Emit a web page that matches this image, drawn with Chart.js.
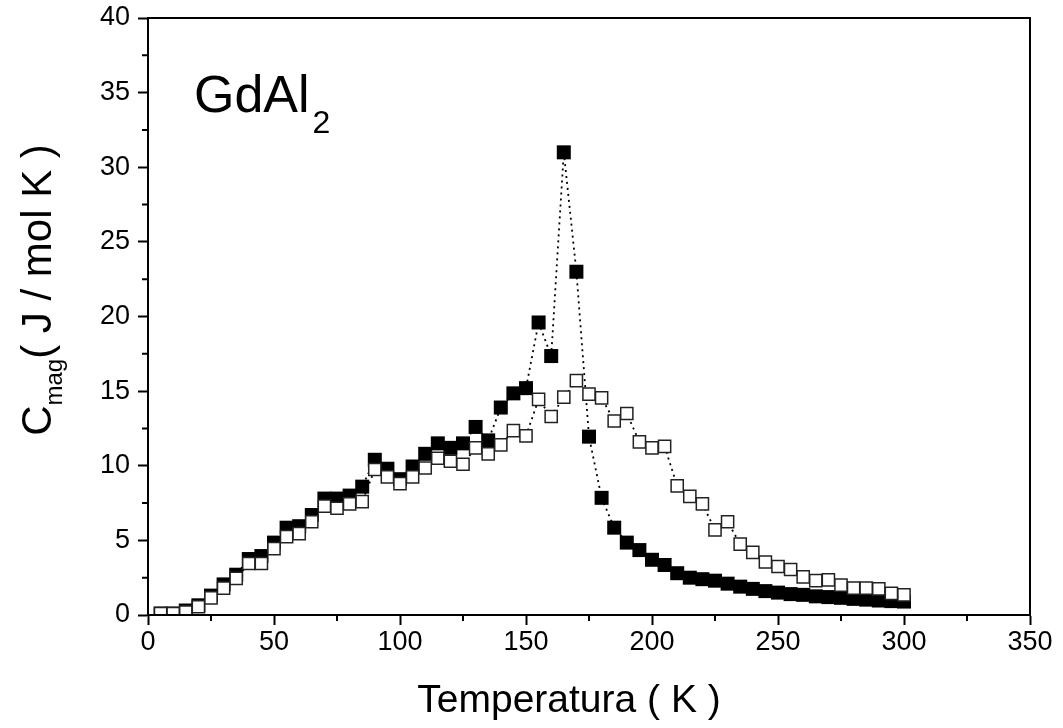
<!DOCTYPE html>
<html lang="es">
<head>
    <meta charset="UTF-8">
    <title>GdAl2 - Cmag vs Temperatura</title>
    <script src="https://cdn.jsdelivr.net/npm/chart.js"></script>
    <style>
        body { margin: 0; background: #fff; }
        .chart-box { width: 1063px; height: 728px; }
    </style>
</head>
<body>
    <div class="chart-box">
        <canvas id="cmagChart"></canvas>
    </div>

    <script>
        // Temperature grid (K)
        const temps = [
            5, 10, 15, 20, 25, 30, 35, 40, 45, 50,
            55, 60, 65, 70, 75, 80, 85, 90, 95, 100,
            105, 110, 115, 120, 125, 130, 135, 140, 145, 150,
            155, 160, 165, 170, 175, 180, 185, 190, 195, 200,
            205, 210, 215, 220, 225, 230, 235, 240, 245, 250,
            255, 260, 265, 270, 275, 280, 285, 290, 295, 300
        ];

        // Cmag (J / mol K), filled squares
        const cmagFilled = [
            0.1, 0.1, 0.3, 0.65, 1.3, 2.05, 2.7, 3.75, 3.95, 4.85,
            5.85, 5.95, 6.7, 7.8, 7.8, 8.0, 8.6, 10.4, 9.8, 9.1,
            9.95, 10.8, 11.5, 11.2, 11.5, 12.6, 11.7, 13.9, 14.85, 15.2,
            19.6, 17.35, 31.0, 23.0, 11.95, 7.85, 5.85, 4.85, 4.35, 3.7,
            3.35, 2.8, 2.5, 2.4, 2.3, 2.1, 1.9, 1.75, 1.6, 1.5,
            1.4, 1.35, 1.25, 1.2, 1.15, 1.08, 1.03, 0.97, 0.93, 0.9
        ];

        // Cmag (J / mol K), open squares
        const cmagOpen = [
            0.1, 0.1, 0.2, 0.55, 1.15, 1.8, 2.45, 3.45, 3.45, 4.45,
            5.25, 5.45, 6.25, 7.3, 7.15, 7.45, 7.6, 9.75, 9.25, 8.8,
            9.25, 9.85, 10.5, 10.3, 10.1, 11.2, 10.8, 11.4, 12.35, 12.0,
            14.45, 13.3, 14.6, 15.7, 14.8, 14.55, 13.0, 13.5, 11.6, 11.2,
            11.3, 8.65, 7.95, 7.45, 5.7, 6.25, 4.75, 4.2, 3.55, 3.25,
            3.05, 2.55, 2.3, 2.35, 2.0, 1.8, 1.8, 1.75, 1.45, 1.35
        ];

        const xMinorTicks = [25, 75, 125, 175, 225, 275, 325];
        const yMinorTicks = [2.5, 7.5, 12.5, 17.5, 22.5, 27.5, 32.5, 37.5];

        const FONT = '"Liberation Sans", Arial, sans-serif';

        // frame, minor ticks, axis titles, sample label
        const extrasPlugin = {
            id: 'extras',
            afterDraw(chart) {
                const ctx = chart.ctx;
                const area = chart.chartArea;
                const xs = chart.scales.x;
                const ys = chart.scales.y;
                ctx.save();
                ctx.strokeStyle = '#000';
                ctx.lineWidth = 2;
                ctx.strokeRect(area.left, area.top, area.right - area.left, area.bottom - area.top);

                ctx.beginPath();
                xMinorTicks.forEach(v => {
                    const px = xs.getPixelForValue(v);
                    ctx.moveTo(px, area.bottom);
                    ctx.lineTo(px, area.bottom + 6);
                });
                yMinorTicks.forEach(v => {
                    const py = ys.getPixelForValue(v);
                    ctx.moveTo(area.left, py);
                    ctx.lineTo(area.left - 6, py);
                });
                ctx.stroke();

                ctx.fillStyle = '#000';
                ctx.textBaseline = 'alphabetic';

                // x axis title
                ctx.font = '39px ' + FONT;
                ctx.textAlign = 'center';
                ctx.fillText('Temperatura ( K )', 569, 712);
                ctx.textAlign = 'left';

                // y axis title
                ctx.translate(51, 290);
                ctx.rotate(-Math.PI / 2);
                const big = '42px ' + FONT;
                const small = '24px ' + FONT;
                ctx.font = big;
                const wC = ctx.measureText('C').width;
                const rest = '( J / mol K )';
                const wRest = ctx.measureText(rest).width;
                ctx.font = small;
                const wSub = ctx.measureText('mag').width;
                const x0 = -(wC + wSub + wRest) / 2;
                ctx.font = big;
                ctx.fillText('C', x0, 0);
                ctx.font = small;
                ctx.fillText('mag', x0 + wC, 11);
                ctx.font = big;
                ctx.fillText(rest, x0 + wC + wSub, 0);
                ctx.setTransform(1, 0, 0, 1, 0, 0);

                // compound label
                ctx.font = '52px ' + FONT;
                ctx.fillText('GdAl', area.left + 46, 112);
                const wG = ctx.measureText('GdAl').width;
                ctx.font = '32px ' + FONT;
                ctx.fillText('2', area.left + 46 + wG + 3, 133);
                ctx.restore();
            }
        };

        const ctx = document.getElementById('cmagChart').getContext('2d');
        new Chart(ctx, {
            type: 'scatter',
            data: {
                datasets: [
                    {
                        label: 'open',
                        data: temps.map((t, i) => ({ x: t, y: cmagOpen[i] })),
                        showLine: true,
                        borderColor: '#000',
                        borderWidth: 1.8,
                        borderDash: [2, 4],
                        pointStyle: 'rect',
                        pointRadius: 8.6,
                        pointBackgroundColor: '#fff',
                        pointBorderColor: '#222',
                        pointBorderWidth: 1.5,
                        order: 0,
                        clip: 0
                    },
                    {
                        label: 'filled',
                        data: temps.map((t, i) => ({ x: t, y: cmagFilled[i] })),
                        showLine: true,
                        borderColor: '#000',
                        borderWidth: 1.8,
                        borderDash: [2, 4],
                        pointStyle: 'rect',
                        pointRadius: 9.9,
                        pointBackgroundColor: '#000',
                        pointBorderColor: '#000',
                        pointBorderWidth: 0,
                        order: 1,
                        clip: 0
                    }
                ]
            },
            options: {
                responsive: true,
                maintainAspectRatio: false,
                animation: false,
                layout: { padding: { left: 0, top: 18, right: 33, bottom: 0 } },
                plugins: {
                    legend: { display: false },
                    tooltip: { enabled: false }
                },
                scales: {
                    x: {
                        type: 'linear',
                        min: 0,
                        max: 350,
                        ticks: { stepSize: 50, color: '#000', font: { family: FONT, size: 27 }, padding: 1, maxRotation: 0 },
                        grid: { drawOnChartArea: false, tickLength: 10, tickWidth: 2, tickColor: '#000' },
                        border: { display: true, width: 2, color: '#000' },
                        afterFit(scale) {
                            scale.height = 728 - 615;
                            scale.paddingLeft = 0;
                            scale.paddingRight = 0;
                        }
                    },
                    y: {
                        type: 'linear',
                        min: 0,
                        max: 40,
                        ticks: { stepSize: 5, color: '#000', font: { family: FONT, size: 27 }, padding: 8 },
                        grid: { drawOnChartArea: false, tickLength: 10, tickWidth: 2, tickColor: '#000' },
                        border: { display: true, width: 2, color: '#000' },
                        afterFit(scale) {
                            scale.width = 148;
                            scale.paddingTop = 0;
                            scale.paddingBottom = 0;
                        }
                    }
                }
            },
            plugins: [extrasPlugin]
        });
    </script>
</body>
</html>
